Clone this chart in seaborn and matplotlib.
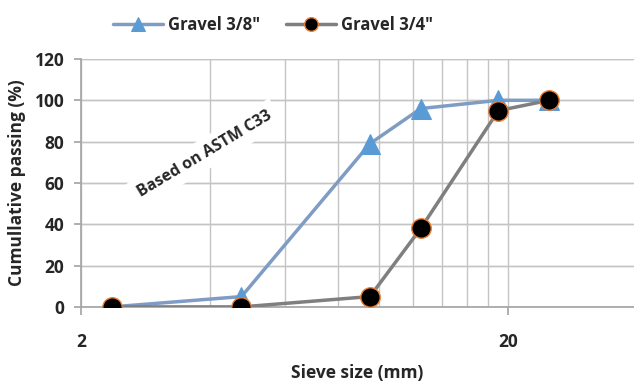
import pandas as pd
import matplotlib.pyplot as plt
import seaborn as sns
from matplotlib.ticker import FixedLocator, NullFormatter

# Sieve sizes (mm) and cumulative passing (%)
sieve_mm = [2.36, 4.75, 9.5, 12.5, 19, 25]
gravel_38 = [0, 5, 79, 96, 100, 100]
gravel_34 = [0, 0, 5, 38, 95, 100]
y_ticks = [0, 20, 40, 60, 80, 100, 120]
x_min, x_max = 2, 39.5

sns.set_theme(style="white")
plt.rcParams['font.family'] = ['Open Sans', 'DejaVu Sans']

df38 = pd.DataFrame({'size': sieve_mm, 'passing': gravel_38})
df34 = pd.DataFrame({'size': sieve_mm, 'passing': gravel_34})

fig = plt.figure(figsize=(6.34, 3.88), dpi=100)
ax = fig.add_axes([0.128, 0.209, 0.872, 0.639])

sns.lineplot(data=df38, x='size', y='passing', ax=ax, color='#7F9CC4', linewidth=2.5,
             marker='^', markersize=14, markerfacecolor='#5B9BD5', markeredgecolor='#5B9BD5',
             label='Gravel 3/8"', zorder=3)
sns.lineplot(data=df34, x='size', y='passing', ax=ax, color='#7F7F7F', linewidth=2.5,
             marker='o', markersize=14, markerfacecolor='black', markeredgecolor='#ED7D31',
             markeredgewidth=1, label='Gravel 3/4"', zorder=4)

# horizontal gridlines in data coordinates
ax.hlines(y_ticks, x_min, x_max, colors='#C4C4C4', linewidth=1, zorder=1)

ax.set_xscale('log')
ax.set_xlim(x_min, x_max)
ax.set_ylim(0, 120)
ax.xaxis.set_major_locator(FixedLocator([2, 20]))
ax.xaxis.set_minor_locator(FixedLocator([4, 6, 8, 10, 12, 14, 16, 18]))
ax.xaxis.set_minor_formatter(NullFormatter())
ax.set_xticklabels(['2', '20'])
ax.set_yticks(y_ticks)

ax.xaxis.grid(True, which='both', color='#C4C4C4', linewidth=1)
ax.yaxis.grid(True, which='major', color='#C4C4C4', linewidth=1)
ax.set_axisbelow(True)
for s in ['top', 'right']:
    ax.spines[s].set_visible(False)
ax.spines['bottom'].set_color('#A6A6A6')
ax.spines['left'].set_color('#A6A6A6')
ax.tick_params(axis='x', which='major', bottom=True, length=6, color='#A6A6A6',
               labelsize=12.5, pad=13)
ax.tick_params(axis='x', which='minor', bottom=False)
ax.tick_params(axis='y', left=True, length=5, color='#A6A6A6', labelsize=12.5, pad=7)
for lbl in ax.get_xticklabels() + ax.get_yticklabels():
    lbl.set_fontweight('bold')

ax.set_xlabel('Sieve size (mm)', fontsize=12.5, fontweight='bold', labelpad=9)
ax.set_ylabel('Cumullative passing (%)', fontsize=12.5, fontweight='bold', labelpad=6)

ax.text(3.9, 74, 'Based on ASTM C33', rotation=31, ha='center', va='center',
        fontsize=11.5, fontweight='bold',
        bbox=dict(facecolor='white', edgecolor='none', pad=5), zorder=2)

leg = ax.legend(loc='lower center', bbox_to_anchor=(0.347, 1.04), ncol=2, frameon=False,
                fontsize=12, handlelength=3, columnspacing=1.6, handletextpad=0.3,
                markerscale=0.7)
for t in leg.get_texts():
    t.set_fontweight('bold')

fig.savefig('out.png', dpi=100)
